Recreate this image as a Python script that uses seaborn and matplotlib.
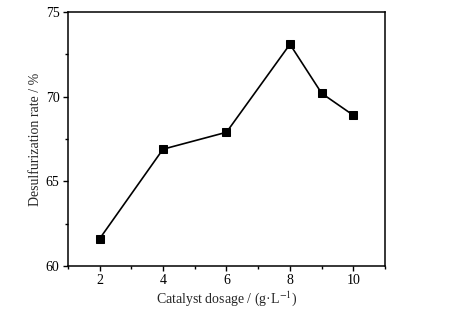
import numpy as np
import pandas as pd
import matplotlib
matplotlib.use("Agg")
import matplotlib.pyplot as plt
import seaborn as sns
from matplotlib.ticker import MultipleLocator

# catalyst dosage vs desulfurization rate
dosage = [2, 4, 6, 8, 9, 10]
rate = [61.6, 66.9, 67.9, 73.1, 70.2, 68.9]
data = pd.DataFrame({"dosage": dosage, "rate": rate})

sns.set_style("ticks")
plt.rcParams['font.family'] = ['Liberation Serif', 'DejaVu Serif']
plt.rcParams['mathtext.fontset'] = 'stix'

fig, ax = plt.subplots(figsize=(4.58, 3.10), dpi=100)
fig.subplots_adjust(left=0.148, right=0.841, top=0.961, bottom=0.142)

sns.lineplot(data=data, x="dosage", y="rate", ax=ax, color="black", linewidth=1.2,
             marker="s", markersize=6, markeredgecolor="black")

ax.set_xlim(1, 11)
ax.set_ylim(60, 75)
ax.set_xticks([2, 4, 6, 8, 10])
ax.set_yticks([60, 65, 70, 75])
ax.xaxis.set_minor_locator(MultipleLocator(1))
ax.yaxis.set_minor_locator(MultipleLocator(2.5))
ax.tick_params(which="both", direction="out", top=False, right=False, labelsize=10, width=1,
               colors="black", pad=2.5)
ax.tick_params(which="major", length=3.5)
ax.tick_params(which="minor", length=2.2)
for s in ax.spines.values():
    s.set_linewidth(1.1)
    s.set_color("black")

ax.set_xlabel("Catalyst dosage / (g·L$^{-1}$)", fontsize=10, labelpad=1)
ax.set_ylabel("Desulfurization rate / %", fontsize=10, labelpad=3)

fig.savefig("out.png", dpi=100)
